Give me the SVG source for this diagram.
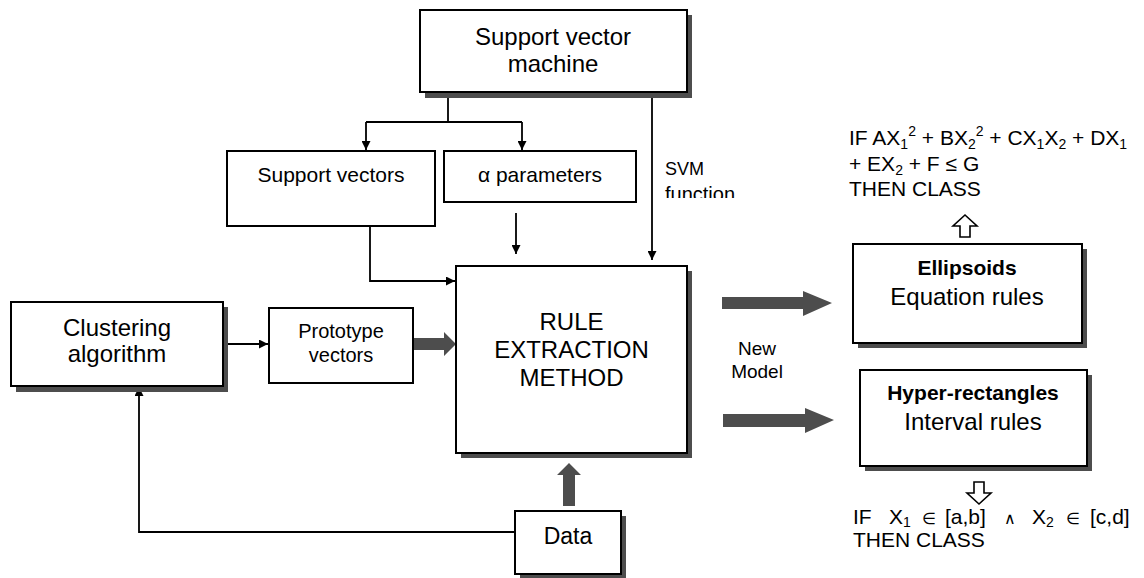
<svg xmlns="http://www.w3.org/2000/svg" width="1144" height="578" viewBox="0 0 1144 578">
<defs>
  <style>
    text { font-family: "Liberation Sans", Arial, sans-serif; fill: #000; }
    .box { fill: #fff; stroke: #000; stroke-width: 2; }
    .shadow { fill: #4d4d4d; }
    .ln { fill: none; stroke: #000; stroke-width: 1.8; }
    .thick { fill: #4d4d4d; stroke: none; }
    .hollow { fill: #fff; stroke: #000; stroke-width: 1.6; }
    .c { text-anchor: middle; }
    .b { font-weight: bold; }
  </style>
  <marker id="ah" viewBox="0 0 10 10" refX="10" refY="5" markerWidth="5" markerHeight="5" orient="auto" markerUnits="strokeWidth">
    <path d="M0,0 L10,5 L0,10 z" fill="#000"/>
  </marker>
  <clipPath id="clipfn"><rect x="655" y="150" width="120" height="48"/></clipPath>
</defs>

<g id="connectors">
  <polyline class="ln" points="448,92 448,122"/>
  <polyline class="ln" points="366,122 522,122"/>
  <polyline class="ln" points="366,122 366,150" marker-end="url(#ah)"/>
  <polyline class="ln" points="522,122 522,150" marker-end="url(#ah)"/>
  <polyline class="ln" points="652,92 652,260" marker-end="url(#ah)"/>
  <polyline class="ln" points="516,213 516,254" marker-end="url(#ah)"/>
  <polyline class="ln" points="370,226 370,281 455,281" marker-end="url(#ah)"/>
  <polyline class="ln" points="223,344 268,344" marker-end="url(#ah)"/>
  <polyline class="ln" points="515,532 139,532 139,387" marker-end="url(#ah)"/>
  <path class="thick" d="M413,338 L444,338 L444,332 L456,344 L444,356 L444,350 L413,350 z"/>
  <path class="thick" d="M563,506 L563,475 L557,475 L569,463 L581,475 L575,475 L575,506 z"/>
  <path class="thick" d="M722,297 L803,297 L803,291 L832,303 L803,316 L803,309 L722,309 z"/>
  <path class="thick" d="M723,414 L805,414 L805,408 L834,420 L805,433 L805,427 L723,427 z"/>
  <path class="hollow" d="M965,215 L977,226 L970,226 L970,237 L960,237 L960,226 L953,226 z"/>
  <path class="hollow" d="M979,504 L991,493 L984,493 L984,482 L974,482 L974,493 L967,493 z"/>
</g>

<g id="svm">
  <rect class="shadow" x="425" y="15" width="267" height="83"/>
  <rect class="box" x="420" y="10" width="267" height="82"/>
  <text class="c" x="553" y="45" font-size="24">Support vector</text>
  <text class="c" x="553" y="72" font-size="24">machine</text>
</g>

<g id="support-vectors">
  <rect class="box" x="227" y="151" width="208" height="75"/>
  <text class="c" x="331" y="182" font-size="21">Support vectors</text>
</g>

<g id="alpha">
  <rect class="box" x="444" y="151" width="192" height="51"/>
  <text class="c" x="540" y="182" font-size="21">α parameters</text>
</g>

<g id="svm-function-label">
  <text x="665" y="175" font-size="18">SVM</text>
  <text x="665" y="201" font-size="20" clip-path="url(#clipfn)">function</text>
</g>

<g id="rule-extraction">
  <rect class="shadow" x="461" y="271" width="231" height="187"/>
  <rect class="box" x="456" y="266" width="231" height="187"/>
  <text class="c" x="571.5" y="330" font-size="24">RULE</text>
  <text class="c" x="571.5" y="358" font-size="24">EXTRACTION</text>
  <text class="c" x="571.5" y="386" font-size="24">METHOD</text>
</g>

<g id="clustering">
  <rect class="shadow" x="16" y="307" width="212" height="85"/>
  <rect class="box" x="11" y="302" width="212" height="84"/>
  <text class="c" x="117" y="336" font-size="24">Clustering</text>
  <text class="c" x="117" y="362" font-size="24">algorithm</text>
</g>

<g id="prototype">
  <rect class="box" x="269" y="308" width="144" height="75"/>
  <text class="c" x="341" y="338" font-size="20">Prototype</text>
  <text class="c" x="341" y="362" font-size="20">vectors</text>
</g>

<g id="data">
  <rect class="shadow" x="520" y="516" width="106" height="62"/>
  <rect class="box" x="515" y="511" width="106" height="63"/>
  <text class="c" x="568" y="544" font-size="23">Data</text>
</g>

<g id="new-model">
  <text class="c" x="757" y="355" font-size="19">New</text>
  <text class="c" x="757" y="378" font-size="19">Model</text>
</g>

<g id="ellipsoids">
  <rect class="shadow" x="858" y="249" width="229" height="99"/>
  <rect class="box" x="853" y="244" width="229" height="99"/>
  <text class="c b" x="967" y="275" font-size="21">Ellipsoids</text>
  <text class="c" x="967" y="305" font-size="24">Equation rules</text>
</g>

<g id="hyper-rectangles">
  <rect class="shadow" x="865" y="375" width="227" height="96"/>
  <rect class="box" x="860" y="370" width="227" height="96"/>
  <text class="c b" x="973" y="400" font-size="21">Hyper-rectangles</text>
  <text class="c" x="973" y="430" font-size="24">Interval rules</text>
</g>

<g id="ellipsoid-rule" font-size="21">
  <text x="849" y="145">IF AX<tspan font-size="14" dy="4">1</tspan><tspan font-size="14" dy="-13">2</tspan><tspan dy="9"> + BX</tspan><tspan font-size="14" dy="4">2</tspan><tspan font-size="14" dy="-13">2</tspan><tspan dy="9"> + CX</tspan><tspan font-size="14" dy="4">1</tspan><tspan dy="-4">X</tspan><tspan font-size="14" dy="4">2</tspan><tspan dy="-4"> + DX</tspan><tspan font-size="14" dy="4">1</tspan></text>
  <text x="849" y="171">+ EX<tspan font-size="14" dy="4">2</tspan><tspan dy="-4"> + F ≤ G</tspan></text>
  <text x="849" y="196">THEN CLASS</text>
</g>

<g id="interval-rule" font-size="21">
  <text x="853" y="524">IF</text>
  <text x="889" y="524">X<tspan font-size="14" dy="3">1</tspan></text>
  <text x="922" y="524" font-size="16">∈</text>
  <text x="945" y="524">[a,b]</text>
  <text x="1004" y="524" font-size="16">∧</text>
  <text x="1032" y="524">X<tspan font-size="14" dy="3">2</tspan></text>
  <text x="1066" y="524" font-size="16">∈</text>
  <text x="1090" y="524">[c,d]</text>
  <text x="853" y="547">THEN CLASS</text>
</g>
</svg>
